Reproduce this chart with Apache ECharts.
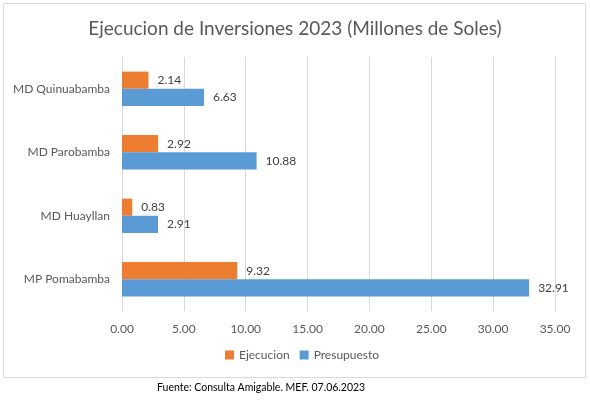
<!DOCTYPE html>
<html>
<head>
	<meta charset="utf-8">
	<title>Ejecucion de Inversiones 2023</title>
	<script type="text/javascript" src="https://cdn.jsdelivr.net/npm/echarts@6/dist/echarts.min.js"></script>
	<style>
		body { margin: 0; background: #fff; }
	</style>
</head>
<body>
	<div style="height: 400px; width: 590px" id="chart"></div>

	<script type="text/javascript">
		// datos (de abajo hacia arriba)
		var categorias = ['MP Pomabamba', 'MD Huayllan', 'MD Parobamba', 'MD Quinuabamba']
		var ejecucion = [9.32, 0.83, 2.92, 2.14]
		var presupuesto = [32.91, 2.91, 10.88, 6.63]
		var ticks = [0, 5, 10, 15, 20, 25, 30, 35]

		var fuente = 'Lato, "Open Sans", sans-serif'
		var chart = echarts.init(document.getElementById('chart'));

		var option = {
			textStyle: { fontFamily: fuente },
			title: {
				text: 'Ejecucion de Inversiones 2023 (Millones de Soles)',
				left: 'center',
				top: 14,
				textStyle: { fontSize: 19, fontWeight: 'normal', color: '#595959', fontFamily: fuente }
			},
			legend: {
				bottom: 34,
				left: 220,
				itemWidth: 9,
				itemHeight: 9,
				itemGap: 10,
				icon: 'rect',
				textStyle: { fontSize: 12, color: '#595959', fontFamily: fuente },
				data: ['Ejecucion', 'Presupuesto']
			},
			grid: {
				left: 122,
				right: 35,
				top: 57,
				bottom: 89
			},
			xAxis: {
				type: 'value',
				min: ticks[0],
				max: ticks[ticks.length - 1],
				interval: 5,
				axisLine: { show: false },
				axisTick: { show: false },
				axisLabel: {
					color: '#595959',
					fontSize: 12,
					margin: 12,
					formatter: function (v) { return v.toFixed(2) }
				},
				splitLine: { lineStyle: { color: '#d9d9d9' } }
			},
			yAxis: {
				type: 'category',
				data: categorias,
				axisLine: { show: false },
				axisTick: { show: false },
				axisLabel: { color: '#595959', fontSize: 12, margin: 12 }
			},
			series: [
				{
					name: 'Ejecucion',
					type: 'bar',
					data: ejecucion,
					barGap: '0%',
					barCategoryGap: '46%',
					itemStyle: { color: '#ed7d31' },
					label: { show: true, position: 'right', distance: 9, color: '#404040', fontSize: 12,
						formatter: function (p) { return p.value.toFixed(2) } }
				},
				{
					name: 'Presupuesto',
					type: 'bar',
					data: presupuesto,
					barGap: '0%',
					barCategoryGap: '46%',
					itemStyle: { color: '#5b9bd5' },
					label: { show: true, position: 'right', distance: 9, color: '#404040', fontSize: 12,
						formatter: function (p) { return p.value.toFixed(2) } }
				}
			],
			graphic: [
				{
					type: 'rect',
					shape: { x: 3.5, y: 3.5, width: 582, height: 374 },
					style: { fill: 'none', stroke: '#d9d9d9', lineWidth: 1 },
					silent: true
				},
				{
					type: 'text',
					left: 157,
					top: 382,
					style: { text: 'Fuente: Consulta Amigable. MEF. 07.06.2023', fill: '#000', fontSize: 10.5, fontFamily: fuente }
				}
			]
		};

		chart.setOption(option);
	</script>
</body>
</html>
